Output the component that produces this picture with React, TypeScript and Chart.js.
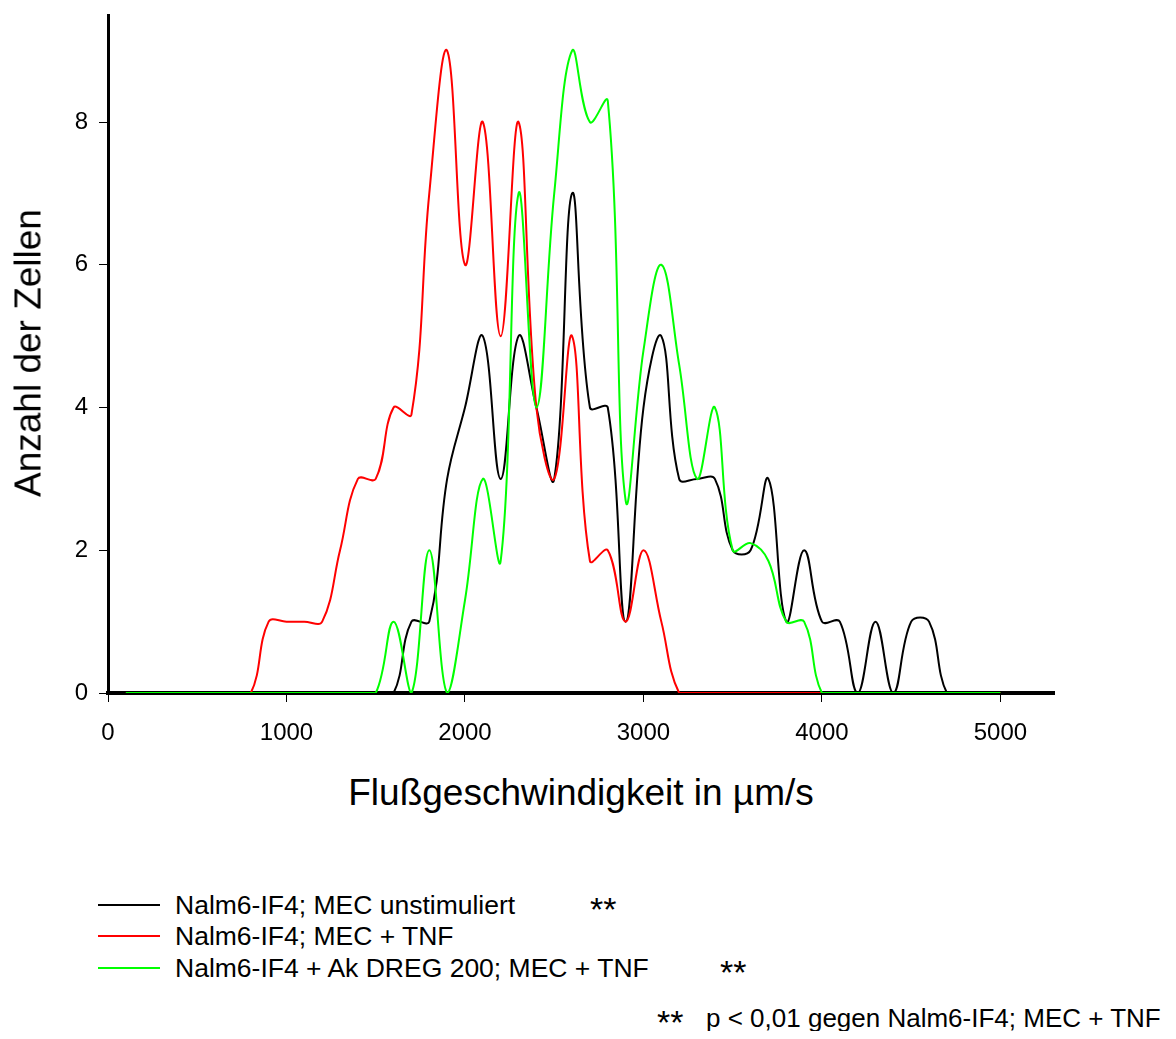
import React, { useEffect, useRef } from "react";
import { Chart, registerables } from "chart.js";

Chart.register(...registerables);

const FONT = "'Liberation Sans', Arial, Helvetica, sans-serif";

// Flow speed bins (µm/s)
const speedBins = [
  100, 200, 300, 400, 500, 600, 700, 800, 900, 1000,
  1100, 1200, 1300, 1400, 1500, 1600, 1700, 1800, 1900, 2000,
  2100, 2200, 2300, 2400, 2500, 2600, 2700, 2800, 2900, 3000,
  3100, 3200, 3300, 3400, 3500, 3600, 3700, 3800, 3900, 4000,
  4100, 4200, 4300, 4400, 4500, 4600, 4700, 4800, 4900, 5000,
];

// Nalm6-IF4; MEC unstimuliert (black)
const unstimuliert = [
  0, 0, 0, 0, 0, 0, 0, 0, 0, 0,
  0, 0, 0, 0, 0, 0, 1, 1, 3, 4,
  5, 3, 5, 4, 3, 7, 4, 4, 1, 4,
  5, 3, 3, 3, 2, 2, 3, 1, 2, 1,
  1, 0, 1, 0, 1, 1, 0, 0, 0, 0,
];

// Nalm6-IF4; MEC + TNF (red)
const mecTnf = [
  0, 0, 0, 0, 0, 0, 0, 0, 1, 1,
  1, 1, 2, 3, 3, 4, 3.9, 7, 9, 6,
  8, 5, 8, 4, 3, 5, 1.85, 2, 1, 2,
  1, 0, 0, 0, 0, 0, 0, 0, 0, 0,
  0, 0, 0, 0, 0, 0, 0, 0, 0, 0,
];

// Nalm6-IF4 + Ak DREG 200; MEC + TNF (green)
const akDreg = [
  0, 0, 0, 0, 0, 0, 0, 0, 0, 0,
  0, 0, 0, 0, 0, 1, 0, 2, 0, 1.3,
  3, 1.85, 7, 4, 7, 9, 8, 8.3, 2.7, 4.8,
  6, 4.6, 3, 4, 2, 2.1, 1.85, 1, 1, 0,
  0, 0, 0, 0, 0, 0, 0, 0, 0, 0,
];

const xTickValues = [0, 1000, 2000, 3000, 4000, 5000];
const yTickValues = [0, 2, 4, 6, 8];

const seriesLabels = [
  "Nalm6-IF4; MEC unstimuliert",
  "Nalm6-IF4; MEC + TNF",
  "Nalm6-IF4 + Ak DREG 200; MEC + TNF",
];
const seriesColors = ["#000000", "#ff0000", "#00ff00"];
const seriesStars = ["**", "", "**"];

const xTitle = "Flußgeschwindigkeit in µm/s";
const yTitle = "Anzahl der Zellen";
const footnoteStars = "**";
const footnoteText = "p < 0,01 gegen Nalm6-IF4; MEC + TNF";

export default function App() {
  const canvasRef = useRef<HTMLCanvasElement | null>(null);

  useEffect(() => {
    const canvas = canvasRef.current;
    if (!canvas) return;
    const seriesValues = [unstimuliert, mecTnf, akDreg];
    const chart = new Chart(canvas, {
      type: "line",
      data: {
        datasets: seriesValues.map((vals, i) => ({
          label: seriesLabels[i],
          data: speedBins.map((x, k) => ({ x, y: vals[k] })),
          borderColor: seriesColors[i],
          backgroundColor: seriesColors[i],
          borderWidth: 2,
          pointRadius: 0,
          tension: 0.4,
          fill: false,
          order: 2 - i,
        })),
      },
      options: {
        responsive: false,
        devicePixelRatio: 1,
        animation: false,
        layout: { padding: { left: 0, top: 7, right: 114, bottom: 0 } },
        plugins: {
          legend: { display: false },
          tooltip: { enabled: false },
          title: { display: false },
        },
        scales: {
          x: {
            type: "linear",
            min: 0,
            max: 5300,
            afterBuildTicks: (scale: any) => {
              scale.ticks = xTickValues.map((v) => ({ value: v }));
            },
            afterFit: (scale: any) => {
              scale.height = 65;
              scale.paddingLeft = 0;
              scale.paddingRight = 0;
              scale.paddingTop = 0;
              scale.paddingBottom = 0;
            },
            ticks: {
              color: "#000",
              padding: 17,
              maxRotation: 0,
              autoSkip: false,
              font: { family: FONT, size: 24 },
              callback: (v: any) => String(v),
            },
            grid: {
              drawOnChartArea: false,
              drawTicks: true,
              tickLength: 9,
              color: "#000",
              lineWidth: 1,
            },
            border: { display: true, color: "#000", width: 4 },
          },
          y: {
            type: "linear",
            min: 0,
            max: 9.5,
            afterBuildTicks: (scale: any) => {
              scale.ticks = yTickValues.map((v) => ({ value: v }));
            },
            afterFit: (scale: any) => {
              scale.width = 100;
              scale.paddingLeft = 0;
              scale.paddingRight = 0;
              scale.paddingTop = 0;
              scale.paddingBottom = 0;
            },
            ticks: {
              color: "#000",
              padding: 11,
              autoSkip: false,
              font: { family: FONT, size: 24 },
              callback: (v: any) => String(v),
            },
            grid: {
              drawOnChartArea: false,
              drawTicks: true,
              tickLength: 9,
              color: "#000",
              lineWidth: 1,
            },
            border: { display: true, color: "#000", width: 3 },
          },
        },
      },
    });
    return () => chart.destroy();
  }, []);

  const legendRowsY = [905, 936, 968];
  const legendStarsX = [590, 0, 720];

  return (
    <div
      style={{
        position: "relative",
        width: 1176,
        height: 1039,
        margin: -8,
        overflow: "hidden",
        fontFamily: FONT,
        color: "#000",
        background: "#fff",
      }}
    >
      <canvas
        ref={canvasRef}
        width={1160}
        height={750}
        style={{ position: "absolute", left: 8, top: 8, width: 1160, height: 750 }}
      />
      <div
        style={{
          position: "absolute",
          left: 28,
          top: 353,
          transform: "translate(-50%, -50%) rotate(-90deg)",
          fontSize: 37,
          lineHeight: 1,
          whiteSpace: "nowrap",
        }}
      >
        {yTitle}
      </div>
      <div
        style={{
          position: "absolute",
          left: 581,
          top: 792,
          transform: "translate(-50%, -50%)",
          fontSize: 37,
          lineHeight: 1,
          whiteSpace: "nowrap",
        }}
      >
        {xTitle}
      </div>
      {seriesLabels.map((label, i) => (
        <React.Fragment key={label}>
          <div
            style={{
              position: "absolute",
              left: 98,
              top: legendRowsY[i] - 1,
              width: 62,
              height: 0,
              borderTop: `2px solid ${seriesColors[i]}`,
            }}
          />
          <div
            style={{
              position: "absolute",
              left: 175,
              top: legendRowsY[i],
              transform: "translateY(-50%)",
              fontSize: 26.5,
              lineHeight: 1,
              whiteSpace: "nowrap",
            }}
          >
            {label}
          </div>
          {seriesStars[i] ? (
            <div
              style={{
                position: "absolute",
                left: legendStarsX[i],
                top: legendRowsY[i] + 4,
                transform: "translateY(-50%)",
                fontSize: 34,
                lineHeight: 1,
                whiteSpace: "nowrap",
              }}
            >
              {seriesStars[i]}
            </div>
          ) : null}
        </React.Fragment>
      ))}
      <div
        style={{
          position: "absolute",
          left: 657,
          top: 1022,
          transform: "translateY(-50%)",
          fontSize: 34,
          lineHeight: 1,
          whiteSpace: "nowrap",
        }}
      >
        {footnoteStars}
      </div>
      <div
        style={{
          position: "absolute",
          left: 706,
          top: 1018,
          transform: "translateY(-50%)",
          fontSize: 26,
          lineHeight: 1,
          whiteSpace: "nowrap",
        }}
      >
        {footnoteText}
      </div>
    </div>
  );
}
